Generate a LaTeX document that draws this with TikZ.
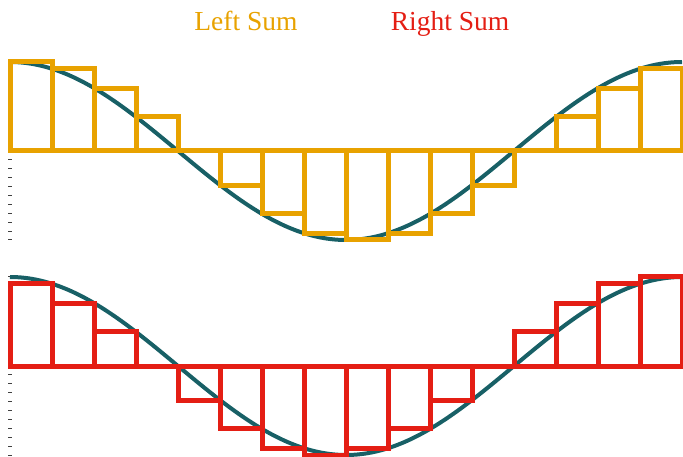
\documentclass[tikz,border=0pt]{standalone}
\usepackage{fontspec}
\setmainfont{Liberation Serif}
\usepackage{xcolor}
\usepackage{tikz}
\definecolor{lsumcol}{RGB}{232,162,0}
\definecolor{rsumcol}{RGB}{228,30,20}
\definecolor{curvecol}{RGB}{24,96,102}

\begin{document}
\begin{tikzpicture}[
  x=1pt, y=-1pt,
  ttl/.style={font=\fontsize{27.5}{30}\selectfont, anchor=base, inner sep=0pt},
  crv/.style={draw=curvecol, line width=4pt},
  lbox/.style={draw=lsumcol, line width=5pt},
  rbox/.style={draw=rsumcol, line width=5pt},
  tck/.style={draw=black!75, line width=1pt}
]
\useasboundingbox (0,0) rectangle (683,457);
% ticks on the left
\foreach \i in {-10,...,10} {
  \draw[tck] (8,{151+8.9*\i}) -- (12,{151+8.9*\i});
  \draw[tck] (8,{366+8.9*\i}) -- (12,{366+8.9*\i});
}
% the two cosine curves
\draw[crv] plot[domain=0:360, samples=120, smooth] ({10+\x*1.8667},{151-89*cos(\x)});
\draw[crv] plot[domain=0:360, samples=120, smooth] ({10+\x*1.8667},{366-89*cos(\x)});
% left sum (top) and right sum (bottom)
\foreach \k in {0,...,15} {
  \draw[lbox] ({10+\k*42},151) rectangle ({10+(\k+1)*42},{151-89*cos(\k*22.5)});
  \draw[rbox] ({10+\k*42},366) rectangle ({10+(\k+1)*42},{366-89*cos((\k+1)*22.5)});
}
\node[ttl, text=lsumcol] (lefttitle) at (246,31) {Left Sum};
\node[ttl, text=rsumcol] (righttitle) at (450,31) {Right Sum};
\end{tikzpicture}
\end{document}
